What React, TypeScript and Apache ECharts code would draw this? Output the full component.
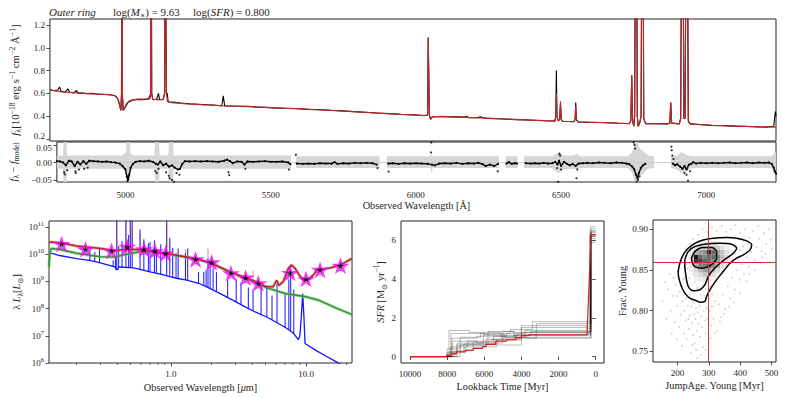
import React, { useEffect, useRef } from "react";
import * as echarts from "echarts";

const FONT = '"Liberation Serif", "DejaVu Serif", serif';
const TXT = "#262626";
const AX = "#262626";

// ---------- top panel: spectrum (wavelength [Å], flux) ----------
const specObs: [number, number][] = [
  [4764,0.635],[4775,0.625],[4790,0.63],[4797,0.655],[4802,0.618],[4815,0.612],[4826,0.64],[4831,0.61],[4845,0.605],[4855,0.625],[4860,0.6],[4875,0.603],[4890,0.598],[4910,0.6],[4930,0.593],[4950,0.59],[4970,0.588],[4985,0.58],[4995,0.555],[5002,0.49],[5006,0.45],[5008,0.6],[5009,2.5],[5010,2.5],[5011,0.6],[5014,0.45],[5020,0.475],[5030,0.52],[5045,0.54],[5060,0.548],[5080,0.545],[5100,0.552],[5108,0.6],[5109,2.5],[5110,2.5],[5111,0.6],[5115,0.545],[5128,0.55],[5134,0.6],[5138,0.545],[5150,0.548],[5155,0.6],[5157,2.5],[5159,2.5],[5161,0.6],[5164,0.6],[5167,0.53],[5175,0.522],[5185,0.525],[5195,0.52],[5210,0.516],[5240,0.51],[5270,0.505],[5300,0.5],[5330,0.496],[5350,0.49],[5355,0.578],[5360,0.49],[5380,0.49],[5410,0.487],[5440,0.486],[5470,0.48],[5500,0.478],[5530,0.473],[5560,0.47],[5600,0.468],[5640,0.46],[5680,0.458],[5720,0.452],[5760,0.447],[5800,0.44],[5840,0.435],[5880,0.428],[5920,0.423],[5960,0.416],[6000,0.412],[6040,0.406],[6052,0.41],[6054,1.09],[6056,1.09],[6058,0.41],[6062,0.372],[6068,0.396],[6100,0.397],[6150,0.394],[6180,0.392],[6185,0.399],[6190,0.39],[6200,0.387],[6225,0.39],[6232,0.395],[6250,0.381],[6300,0.378],[6350,0.37],[6400,0.367],[6450,0.36],[6486,0.358],[6489,0.4],[6491,0.8],[6493,0.4],[6497,0.36],[6502,0.37],[6505,0.5],[6508,0.37],[6512,0.356],[6550,0.352],[6555,0.37],[6557,0.52],[6559,0.37],[6565,0.35],[6600,0.347],[6650,0.345],[6700,0.338],[6740,0.336],[6745,0.36],[6748,0.76],[6751,0.36],[6755,0.312],[6758,0.4],[6761,2.5],[6764,2.5],[6767,0.4],[6770,0.31],[6775,0.34],[6780,0.4],[6783,2.5],[6786,2.5],[6789,0.38],[6795,0.335],[6830,0.334],[6870,0.333],[6878,0.34],[6881,0.52],[6884,0.34],[6910,0.333],[6915,0.38],[6919,2.5],[6922,2.5],[6926,0.38],[6930,0.38],[6934,2.5],[6937,2.5],[6941,0.36],[6946,0.34],[6950,0.333],[6980,0.327],[7020,0.32],[7060,0.318],[7100,0.313],[7140,0.31],[7180,0.307],[7210,0.305],[7232,0.31],[7238,0.44],[7240,0.4],
];
const specModel: [number, number][] = [
  [4764,0.63],[4780,0.622],[4800,0.615],[4820,0.612],[4840,0.607],[4860,0.604],[4880,0.601],[4900,0.598],[4920,0.595],[4940,0.593],[4960,0.59],[4975,0.586],[4990,0.575],[4998,0.54],[5003,0.48],[5006,0.455],[5008,0.6],[5009,2.5],[5010,2.5],[5011,0.6],[5013,0.455],[5018,0.47],[5025,0.51],[5035,0.535],[5050,0.545],[5070,0.55],[5090,0.55],[5105,0.552],[5108,0.6],[5109,2.5],[5110,2.5],[5111,0.6],[5114,0.548],[5130,0.545],[5150,0.545],[5155,0.6],[5157,2.5],[5159,2.5],[5161,0.6],[5165,0.528],[5180,0.518],[5200,0.514],[5230,0.508],[5260,0.504],[5290,0.5],[5320,0.497],[5350,0.492],[5380,0.489],[5410,0.487],[5440,0.485],[5470,0.481],[5500,0.477],[5530,0.474],[5560,0.471],[5600,0.467],[5640,0.462],[5680,0.457],[5720,0.452],[5760,0.446],[5800,0.44],[5840,0.434],[5880,0.428],[5920,0.422],[5960,0.417],[6000,0.413],[6040,0.405],[6052,0.41],[6054,1.09],[6056,1.09],[6058,0.41],[6062,0.375],[6068,0.395],[6100,0.398],[6150,0.393],[6200,0.388],[6250,0.383],[6300,0.377],[6350,0.372],[6400,0.366],[6450,0.361],[6486,0.358],[6489,0.4],[6491,0.6],[6493,0.4],[6497,0.36],[6502,0.37],[6505,0.53],[6508,0.37],[6512,0.356],[6550,0.352],[6555,0.37],[6557,0.49],[6559,0.37],[6565,0.351],[6600,0.348],[6650,0.344],[6700,0.339],[6740,0.336],[6745,0.36],[6748,0.76],[6751,0.36],[6755,0.315],[6758,0.4],[6761,2.5],[6764,2.5],[6767,0.4],[6770,0.315],[6775,0.34],[6780,0.4],[6783,2.5],[6786,2.5],[6789,0.38],[6795,0.335],[6830,0.334],[6870,0.333],[6878,0.34],[6881,0.52],[6884,0.34],[6910,0.333],[6915,0.38],[6919,2.5],[6922,2.5],[6926,0.38],[6930,0.38],[6934,2.5],[6937,2.5],[6941,0.36],[6946,0.332],[6980,0.326],[7020,0.321],[7060,0.317],[7100,0.314],[7140,0.311],[7180,0.308],[7210,0.306],[7240,0.305],
];

// ---------- residual panel ----------
const residLine: [number, number | null][] = [
  [4764,0.004],[4775,0.003],[4785,0.0],[4795,-0.008],[4805,0.005],[4815,0.003],[4825,-0.01],[4835,0.002],[4845,-0.006],[4855,0.004],[4865,-0.004],[4875,0.005],[4890,0.004],[4905,0.003],[4920,0.002],[4935,0.003],[4950,0.001],[4965,0.0],[4980,-0.003],[4990,-0.01],[5000,-0.02],[5005,-0.04],[5009,-0.05],[5013,-0.035],[5018,-0.015],[5025,-0.005],[5035,0.002],[5050,0.004],[5065,0.003],[5080,0.005],[5095,0.002],[5105,-0.004],[5112,-0.006],[5120,0.003],[5130,-0.008],[5140,-0.003],[5150,-0.012],[5160,-0.008],[5170,-0.015],[5180,-0.02],[5188,-0.018],[5195,-0.005],[5205,0.004],[5220,0.003],[5240,0.004],[5260,0.003],[5280,0.004],[5300,0.003],[5320,0.002],[5340,0.005],[5350,0.008],[5360,0.004],[5370,-0.002],[5385,0.003],[5400,0.002],[5410,-0.006],[5420,0.003],[5440,0.002],[5460,0.003],[5480,0.004],[5500,0.002],[5520,0.002],[5540,0.003],[5560,0.0],[5568,-0.005],[5575,null],
  [5590,-0.003],[5610,-0.004],[5630,-0.003],[5650,-0.004],[5670,-0.002],[5690,-0.003],[5710,-0.003],[5720,0.001],[5730,-0.004],[5750,-0.002],[5770,-0.003],[5790,-0.001],[5810,-0.002],[5830,-0.001],[5850,-0.002],[5865,-0.006],[5880,null],
  [5905,-0.003],[5920,-0.002],[5940,-0.004],[5960,-0.002],[5980,-0.003],[6000,-0.002],[6020,-0.003],[6040,-0.004],[6055,-0.006],[6065,-0.008],[6080,-0.003],[6100,-0.002],[6120,-0.003],[6140,-0.001],[6160,-0.004],[6180,-0.002],[6200,-0.003],[6215,-0.001],[6230,-0.005],[6240,-0.01],[6255,-0.006],[6270,-0.01],[6283,-0.004],[6295,null],
  [6312,-0.003],[6320,0.001],[6330,-0.004],[6340,-0.002],[6348,-0.003],[6360,null],
  [6378,-0.002],[6395,-0.003],[6410,-0.002],[6425,-0.003],[6440,-0.001],[6455,-0.003],[6470,-0.002],[6480,0.002],[6488,-0.006],[6493,0.005],[6500,-0.01],[6510,0.002],[6520,-0.004],[6530,-0.008],[6540,-0.004],[6550,-0.01],[6560,-0.003],[6575,-0.002],[6590,-0.001],[6610,-0.002],[6630,0.0],[6650,-0.001],[6670,-0.002],[6690,0.0],[6710,-0.001],[6725,-0.003],[6735,-0.005],[6745,-0.012],[6752,-0.02],[6758,-0.035],[6763,-0.045],[6768,-0.03],[6775,-0.015],[6782,-0.008],[6790,-0.004],[6800,null],
  [6885,-0.003],[6892,-0.008],[6900,-0.005],[6910,-0.012],[6918,-0.018],[6925,-0.01],[6932,-0.02],[6940,-0.006],[6948,-0.004],[6955,0.001],[6965,-0.003],[6980,-0.001],[7000,-0.002],[7020,-0.001],[7040,-0.002],[7060,-0.001],[7080,0.0],[7100,-0.002],[7120,-0.001],[7140,0.0],[7160,-0.002],[7180,0.0],[7200,-0.001],[7215,0.0],[7225,-0.004],[7232,-0.015],[7236,-0.025],[7240,-0.032],
];
const residOut: [number, number][] = [
  [4789,-0.028],[4791,-0.034],[4800,-0.022],[4828,-0.025],[4829,-0.03],[4840,-0.02],[4858,-0.018],[4870,-0.015],[5007,-0.053],[5103,-0.025],[5108,-0.03],[5114,-0.018],[5140,-0.028],[5149,-0.038],[5152,-0.045],[5160,-0.05],[5166,-0.055],[5176,-0.03],[5186,-0.035],[5355,-0.028],[5358,-0.036],[5413,-0.018],[5563,-0.02],[5587,0.022],[5868,-0.016],[5906,-0.026],[6053,0.057],[6052,0.029],[6282,-0.025],[6486,-0.016],[6490,-0.055],[6494,0.025],[6497,0.02],[6500,-0.02],[6553,-0.045],[6556,-0.02],[6750,0.057],[6753,0.05],[6755,0.04],[6760,-0.055],[6765,-0.05],[6770,-0.04],[6880,0.045],[6881,0.035],[6883,0.02],[6887,0.01],[6925,-0.03],[6932,-0.035],[6937,-0.052],[6944,-0.025],
];
// uncertainty band: [wavelength, upper, lower]; null = gap
const residBand: [number, number | null, number | null][] = [
  [4764,0.02,-0.018],[4785,0.02,-0.018],[4789,0.1,-0.1],[4795,0.1,-0.1],[4799,0.02,-0.018],[4990,0.02,-0.018],[5002,0.03,-0.025],[5006,0.1,-0.1],[5012,0.1,-0.1],[5018,0.025,-0.02],[5030,0.02,-0.018],[5100,0.02,-0.018],[5105,0.1,-0.1],[5113,0.1,-0.1],[5118,0.02,-0.018],[5148,0.02,-0.018],[5152,0.1,-0.1],[5162,0.1,-0.1],[5166,0.02,-0.018],[5570,0.02,-0.018],[5580,null,null],
  [5588,0.018,-0.016],[5875,0.018,-0.016],[5888,null,null],
  [5900,0.018,-0.016],[6050,0.018,-0.016],[6054,0.03,-0.03],[6058,0.018,-0.016],[6286,0.018,-0.016],[6298,null,null],
  [6309,0.018,-0.016],[6350,0.018,-0.016],[6360,null,null],
  [6372,0.018,-0.016],[6470,0.018,-0.016],[6485,0.025,-0.028],[6495,0.03,-0.03],[6505,0.02,-0.02],[6540,0.02,-0.018],[6555,0.025,-0.02],[6565,0.018,-0.016],[6730,0.018,-0.016],[6745,0.03,-0.03],[6755,0.06,-0.06],[6762,0.06,-0.06],[6770,0.04,-0.04],[6785,0.03,-0.03],[6800,0.02,-0.018],[6820,0.018,-0.016],[6850,null,null],
  [6878,0.018,-0.016],[6900,0.02,-0.02],[6915,0.03,-0.03],[6925,0.025,-0.03],[6940,0.02,-0.02],[6955,0.018,-0.016],[7225,0.018,-0.016],[7232,0.025,-0.03],[7240,0.03,-0.035],
];

// ---------- SED panel (λ [μm], λL_λ [L_sun]) ----------
const sedBlue: [number, number][] = [
  [0.125,1.05e10],[0.13,1.08e10],[0.15,8.9e9],[0.2,6.9e9],[0.25,5.9e9],[0.3,4.8e9],[0.35,3.9e9],[0.385,3.4e9],[0.395,2.6e9],[0.405,2.8e9],[0.41,3.4e9],[0.45,3.3e9],[0.53,3.15e9],[0.6,2.7e9],[0.7,2.25e9],[0.85,1.8e9],[0.98,1.5e9],[1.1,1.3e9],[1.31,1.1e9],[1.6,8.5e8],[1.84,6.3e8],[2.3,3.6e8],[2.89,2.0e8],[3.6,1.1e8],[4.2,7.5e7],[5.12,4.9e7],[6.2,2.9e7],[7.18,1.9e7],[8.0,1.3e7],[8.77,7.2e6],[9.0,1.0e7],[9.2,4e7],[9.45,3.5e8],[9.65,5e7],[9.83,5.2e6],[12,2.8e6],[14,1.8e6],[16.8,1.1e6],[19,7.5e5],[21.9,5e5],
];
// [λ, continuum at λ, line peak]
const sedBlueLines: [number, number, number][] = [
  [0.251,5.9e9,1.45e10],[0.273,5.3e9,1.2e10],[0.296,4.8e9,1.6e10],[0.373,3.6e9,6e9],[0.388,3.3e9,8e9],[0.397,2.8e9,2e11],[0.41,3.4e9,2e10],[0.434,3.3e9,3e10],[0.464,3.3e9,2e11],[0.486,3.25e9,5e10],[0.5,3.2e9,2e11],[0.516,3.2e9,2e11],[0.59,2.8e9,8e10],[0.63,2.6e9,3.5e10],[0.68,2.35e9,2.5e10],[0.7,2.25e9,2.8e10],[0.754,2.1e9,3.2e10],[0.78,2.0e9,1.5e10],[0.84,1.8e9,2.3e10],[0.93,1.6e9,2e11],[0.98,1.5e9,4e10],[1.03,1.4e9,1.7e10],[1.09,1.35e9,1.1e10],[1.13,1.3e9,1.6e10],[1.28,1.15e9,1.1e10],[1.33,1.1e9,1.6e10],[1.6,8.5e8,2.2e9],[1.75,7e8,2.2e9],[1.82,6.5e8,2.6e9],[1.88,6.1e8,7e9],[1.95,5.7e8,3.5e9],[2.05,5e8,3e9],[2.17,4.4e8,2.2e9],[2.63,2.6e8,1.1e9],[3.04,1.75e8,1.2e9],[3.3,1.4e8,9e8],[3.74,1.0e8,6e8],[4.05,8.2e7,5e8],[4.65,6e7,7e8],[5.13,4.9e7,7e8],[5.6,3.8e7,3e8],[6.1,3e7,8e8],[7.0,2e7,3.5e8],[7.46,1.7e7,1.2e9],[7.7,1.55e7,2.5e9],[8.12,1.25e7,5e8],
];
const sedRedLines: [number, number, number][] = [
  [0.397,1.35e10,2e11],[0.464,1.5e10,2e11],[0.5,1.55e10,2e11],[0.516,1.55e10,1e11],[0.59,1.45e10,6e10],[0.63,1.4e10,3e10],[0.754,1.25e10,2.5e10],[0.93,1.05e10,2e11],[0.98,1.0e10,3e10],[1.28,8.2e9,1.5e10],[1.88,5.1e9,1.6e10],[4.05,1.0e9,2.5e9],
];
const sedRed: [number, number][] = [
  [0.125,2.6e10],[0.13,2.8e10],[0.15,2.6e10],[0.2,2.0e10],[0.25,1.8e10],[0.3,1.6e10],[0.36,1.42e10],[0.39,1.3e10],[0.41,1.42e10],[0.5,1.52e10],[0.6,1.42e10],[0.7,1.28e10],[0.8,1.15e10],[0.9,1.06e10],[1.0,9.8e9],[1.2,8.4e9],[1.5,6.9e9],[1.8,5.4e9],[2.0,4.6e9],[2.4,3.0e9],[2.8,2.1e9],[3.3,1.55e9],[3.6,1.3e9],[4.2,1.0e9],[4.5,8.3e8],[5.0,6.5e8],[5.7,6.3e8],[6.07,1.1e9],[6.3,7e8],[6.8,1.0e9],[7.4,3e9],[7.8,4e9],[8.3,3e9],[8.9,1.7e9],[9.6,1.1e9],[10.2,1.1e9],[11.3,1.7e9],[12,2.6e9],[15,3.1e9],[18,4e9],[21.9,6.9e9],
];
const sedGreen: [number, number][] = [
  [0.125,3.5e9],[0.127,1.2e10],[0.13,1.6e10],[0.15,1.5e10],[0.2,1.07e10],[0.3,8e9],[0.39,7.8e9],[0.41,8.5e9],[0.5,1.05e10],[0.6,1.25e10],[0.7,1.22e10],[0.8,1.12e10],[1.0,9.6e9],[1.5,6.9e9],[2.0,4.6e9],[2.8,2.1e9],[3.6,1.3e9],[4.5,8.3e8],[5.0,6.0e8],[7.0,3.6e8],[10,2.7e8],[12.5,2.0e8],[16,1.15e8],[21.9,6e7],
];
const sedPhot: [number, number][] = [
  [0.155,2.3e10],[0.233,1.48e10],[0.363,1.29e10],[0.475,1.82e10],[0.631,1.48e10],[0.761,1.29e10],[0.913,1.05e10],[1.52,6.3e9],[2.0,4.9e9],[2.78,1.95e9],[3.57,1.35e9],[4.43,8.3e8],[7.62,2.0e9],[10.0,1.2e9],[12.7,2.6e9],[18.0,3.7e9],
];
const sedMinorTicks = [0.2,0.3,0.4,0.5,0.6,0.7,0.8,0.9,2,3,4,5,6,7,8,9,20];

// ---------- SFH panel (lookback time [Myr], SFR) ----------
const sfhBest: [number, number][] = [
  [10000,0],[8050,0],[8050,0.05],[7800,0.05],[7800,0.15],[7500,0.15],[7500,0.25],[7000,0.25],[7000,0.33],[6600,0.33],[6600,0.42],[6100,0.42],[6100,0.52],[5900,0.52],[5900,0.63],[5400,0.63],[5400,0.8],[4800,0.8],[4800,0.87],[4300,0.87],[4300,0.98],[4000,0.98],[4000,1.08],[3600,1.08],[3600,1.12],[470,1.12],[250,6.3],[0,6.3],
];
// posterior draws: [t, SFR of the bin starting at t]
const sfhDraws: [number, number][][] = [
  [[10000,0],[7760,0.95],[6400,1.05],[4800,1.2],[3900,1.25],[460,1.2],[280,6.5],[0,6.5]],
  [[10000,0],[7300,0.6],[5900,0.9],[4400,1.1],[3500,1.3],[440,1.25],[300,6.2],[0,6.2]],
  [[10000,0],[8000,0.2],[7040,0.5],[5340,0.85],[4000,1.6],[480,1.55],[280,6.0],[0,6.0]],
  [[10000,0],[7800,1.2],[6000,1.1],[4300,0.95],[3200,1.7],[420,1.7],[240,6.6],[0,6.6]],
  [[10000,0],[7600,0.3],[6600,0.75],[5600,0.9],[4100,1.0],[450,1.0],[260,6.3],[0,6.3]],
  [[10000,0],[7900,1.35],[6800,1.25],[5100,1.0],[3700,0.95],[400,0.95],[250,6.1],[0,6.1]],
  [[10000,0],[8000,0.4],[7300,1.0],[6200,1.2],[4600,1.4],[3400,1.8],[470,1.8],[300,6.4],[0,6.4]],
  [[10000,0],[7700,0.8],[6400,0.7],[5000,1.3],[4400,1.1],[460,1.1],[270,5.9],[0,5.9]],
  [[10000,0],[8000,0.1],[7500,0.6],[5800,1.3],[4400,1.25],[430,1.3],[290,6.7],[0,6.7]],
  [[10000,0],[7800,0.5],[6900,0.8],[5300,0.6],[4000,1.5],[470,1.45],[260,6.2],[0,6.2]],
  [[10000,0],[7450,0.7],[6050,1.15],[4900,1.0],[3800,1.35],[410,1.3],[230,6.45],[0,6.45]],
  [[10000,0],[7900,0.25],[7100,0.65],[5500,1.05],[4250,1.15],[450,1.15],[310,6.25],[0,6.25]],
];

// ---------- posterior panel (JumpAge [Myr], young fraction) ----------
const postSamples: [number, number][] = [
  [152,0.812],[160,0.835],[165,0.79],[170,0.826],[175,0.845],[178,0.80],[182,0.772],[186,0.818],[190,0.858],[192,0.786],[195,0.832],[198,0.765],[200,0.806],[203,0.848],[205,0.78],[207,0.823],[210,0.795],[212,0.862],[214,0.757],[216,0.812],[218,0.838],[220,0.772],[222,0.80],[224,0.852],[226,0.788],[228,0.815],[230,0.765],[231,0.83],[233,0.806],[235,0.872],[237,0.778],[239,0.794],[241,0.82],[243,0.748],[245,0.805],[247,0.785],[249,0.77],[251,0.81],[253,0.796],[255,0.76],[257,0.79],[259,0.803],[261,0.775],[263,0.742],[265,0.798],[267,0.784],[270,0.806],[272,0.768],[275,0.793],[278,0.78],[281,0.755],[284,0.8],[287,0.788],[290,0.772],[293,0.803],[296,0.79],[299,0.76],[302,0.8],[306,0.782],[310,0.805],[315,0.79],[320,0.812],[326,0.775],[332,0.808],[338,0.792],[345,0.82],[352,0.802],[360,0.83],[368,0.815],[375,0.84],[383,0.826],[390,0.85],[398,0.838],[405,0.857],[412,0.845],[420,0.866],[428,0.854],[436,0.872],[445,0.862],[452,0.878],[460,0.888],[468,0.873],[475,0.895],[483,0.882],[490,0.9],[497,0.887],[415,0.9],[400,0.896],[385,0.905],[370,0.9],[355,0.897],[340,0.904],[325,0.898],[310,0.902],[295,0.897],[280,0.9],[265,0.893],[250,0.888],[238,0.882],[228,0.876],[440,0.898],[458,0.904],[430,0.89],[470,0.866],[480,0.87],[500,0.876],[465,0.858],[447,0.85],[430,0.845],[420,0.836],[400,0.822],[380,0.81],[365,0.805],[348,0.796],[335,0.787],[318,0.772],[305,0.766],[290,0.752],[275,0.746],[260,0.752],[248,0.758],[235,0.79],[221,0.84],[210,0.83],[199,0.818],[188,0.84],
  [245,0.86],[250,0.845],[255,0.835],[262,0.828],[268,0.84],[275,0.82],[282,0.832],[290,0.826],[298,0.838],[305,0.83],[312,0.845],[320,0.84],[330,0.852],[340,0.848],[350,0.858],[360,0.86],[372,0.865],[385,0.87],[398,0.875],[410,0.879],[425,0.882],[365,0.875],[345,0.872],[325,0.88],[300,0.884],[275,0.882],[258,0.876],[240,0.868],[232,0.852],[238,0.84],[248,0.826],[300,0.815],[285,0.818],[310,0.82],
];
const histX0 = [238,252,266,280,294,308,322,336,350,364];
const histY0 = [0.8305,0.836,0.8415,0.847,0.8525,0.858,0.8635,0.869,0.8745,0.88];
const HIST_DX = 14;
const HIST_DY = 0.0055;
const histLevels: number[][] = [
  [0,0,0.04,0.05,0.04,0,0,0,0,0],
  [0,0.05,0.08,0.1,0.08,0.05,0,0,0,0],
  [0.04,0.1,0.15,0.22,0.18,0.12,0.06,0,0,0],
  [0.06,0.15,0.3,0.4,0.35,0.25,0.14,0.07,0,0],
  [0.08,0.3,0.5,0.55,0.6,0.45,0.28,0.14,0.06,0],
  [0.1,0.8,0.75,0.6,0.55,0.5,0.4,0.2,0.1,0.04],
  [0.1,0.9,0.6,0.5,0.55,0.6,0.45,0.28,0.12,0.05],
  [0.06,0.3,0.4,0.45,0.85,0.6,0.35,0.25,0.12,0.06],
  [0.03,0.1,0.15,0.2,0.28,0.3,0.2,0.12,0.06,0.03],
  [0,0.03,0.05,0.07,0.08,0.07,0.05,0.04,0,0],
];
const contourOuter: [number, number][] = [
  [202.1,0.8481],[207.5,0.8583],[218.1,0.8685],[234.1,0.8767],[255.4,0.8828],[282.0,0.8869],[314.0,0.889],[356.5,0.8898],[388.5,0.889],[420.4,0.8857],[436.4,0.8808],[431.1,0.8747],[409.8,0.8685],[388.5,0.8645],[367.2,0.8583],[345.9,0.8481],[324.6,0.8379],[303.3,0.8257],[292.7,0.8175],[287.3,0.8114],[271.4,0.8105],[260.7,0.8122],[239.4,0.8154],[223.4,0.8216],[212.8,0.8297],[204.3,0.84],[202.1,0.8481],
];
const contourMiddle: [number, number][] = [
  [223.4,0.8624],[234.1,0.8726],[255.4,0.8788],[292.7,0.882],[335.2,0.8828],[372.5,0.8816],[388.5,0.8767],[377.8,0.8706],[356.5,0.8645],[335.2,0.8583],[314.0,0.8502],[298.0,0.842],[287.3,0.8318],[271.4,0.8257],[250.1,0.8244],[237.3,0.8277],[230.9,0.8338],[226.6,0.844],[223.4,0.8542],[223.4,0.8624],
];
const contourInner: [number, number][] = [
  [244.7,0.8645],[255.4,0.8726],[282.0,0.8775],[308.6,0.8775],[324.6,0.8726],[324.6,0.8645],[314.0,0.8583],[298.0,0.8542],[276.7,0.8522],[255.4,0.8542],[247.9,0.8583],[244.7,0.8645],
];
const bestJumpAge = 297;
const bestFracYoung = 0.86;

const STAR = "path://M50,0 L61.8,35.4 L100,35.4 L69.1,57.3 L80.9,92.7 L50,70.8 L19.1,92.7 L30.9,57.3 L0,35.4 L38.2,35.4 Z";

function rich(fs: number) {
  const base = { fontFamily: FONT, color: TXT, fill: TXT };
  return {
    n: { ...base, fontSize: fs, lineHeight: fs + 4 },
    it: { ...base, fontSize: fs, fontStyle: "italic", lineHeight: fs + 4 },
    sup: { ...base, fontSize: fs * 0.72, lineHeight: fs * 0.72, verticalAlign: "top" },
    sub: { ...base, fontSize: fs * 0.72, lineHeight: fs * 0.72, verticalAlign: "bottom" },
    b: { ...base, fontSize: fs, lineHeight: fs + 4 },
    up: { ...base, fontSize: fs, lineHeight: fs, padding: [0, 0, 6, 0] },
    dn: { ...base, fontSize: fs, lineHeight: fs, padding: [6, 0, 0, 0] },
  };
}

const gapped = (arr: [number, number | null][]) => arr.map(([x, y]) => [x, y === null ? "-" : y]);
const spikes = (arr: [number, number, number][]) =>
  arr.flatMap(([l, b, p]) => [[l, b], [l, p], [l, "-"]]);

export default function App() {
  const ref = useRef<HTMLDivElement>(null);
  useEffect(() => {
    if (!ref.current) return;
    const chart = echarts.init(ref.current, null, { renderer: "svg" });
    const NAMEFS = 10.3;
    const common = {
      axisLine: { show: false },
      axisTick: { show: true, length: 3.5, lineStyle: { color: AX, width: 0.8 } },
      splitLine: { show: false },
      nameLocation: "middle",
      nameTextStyle: { fontFamily: FONT, fontSize: NAMEFS, color: TXT, rich: rich(NAMEFS) },
    };
    const lab = (fmt: (v: number) => string, extra: any = {}) => ({
      color: TXT, fontFamily: FONT, fontSize: 9, formatter: fmt, showMinLabel: false, showMaxLabel: false, ...extra,
    });
    const isMult = (v: number, s: number) => Math.abs(v / s - Math.round(v / s)) < 1e-6;
    const fmtFix = (s: number, d: number) => (v: number) =>
      isMult(v, s) ? (v < 0 ? "\u2212" : "") + Math.abs(v).toFixed(d) : "";

    const gridStyle = { show: true, borderColor: AX, borderWidth: 1, backgroundColor: "transparent" };

    const histData: number[][] = [];
    histLevels.forEach((row, j) => row.forEach((lv, i) => { if (lv >= 0.05) histData.push([histX0[i], histY0[j], lv]); }));

    const option: any = {
      animation: false,
      textStyle: { fontFamily: FONT },
      grid: [
        { left: 49, top: 19, width: 727, height: 122, ...gridStyle },
        { left: 49, top: 142, width: 727, height: 40, ...gridStyle },
        { left: 49, top: 221, width: 303, height: 142, ...gridStyle },
        { left: 401, top: 221, width: 203, height: 142, ...gridStyle },
        { left: 653, top: 220, width: 123, height: 142, ...gridStyle },
      ],
      xAxis: [
        { ...common, gridIndex: 0, type: "value", min: 4764, max: 7240, axisLabel: { show: false }, axisTick: { show: false } },
        { ...common, gridIndex: 1, type: "value", min: 4764, max: 7240, splitNumber: 5,
          axisLabel: lab(fmtFix(500, 0), { margin: 8 }), name: "Observed Wavelength [Å]", nameGap: 18 },
        { ...common, gridIndex: 2, type: "log", logBase: 10, min: 0.125, max: 21.9,
          axisLabel: lab((v: number) => (Math.abs(v - 1) < 1e-6 ? "1.0" : Math.abs(v - 10) < 1e-6 ? "10.0" : ""), { margin: 6 }),
          name: "{n|Observed Wavelength [}{it|μ}{n|m]}", nameGap: 17 },
        { ...common, gridIndex: 3, type: "value", min: -447, max: 10485, inverse: true, splitNumber: 5,
          axisLabel: lab(fmtFix(2000, 0), { margin: 6 }), name: "Lookback Time [Myr]", nameGap: 18 },
        { ...common, gridIndex: 4, type: "value", min: 122, max: 514, splitNumber: 4,
          axisLabel: lab(fmtFix(100, 0), { margin: 6 }), name: "JumpAge. Young [Myr]", nameGap: 18 },
      ],
      yAxis: [
        { ...common, gridIndex: 0, type: "value", min: 0.183, max: 1.252, splitNumber: 5,
          axisLabel: lab((v: number) => (isMult(v, 0.2) ? (Math.abs(v - 0.2) < 1e-6 ? "{up|0.2}" : v.toFixed(1)) : ""), { margin: 5, rich: rich(9) }),
          nameTextStyle: { fontFamily: FONT, fontSize: 10.8, color: TXT, rich: rich(10.8) },
          name: "{it|f}{sub|λ}{n|[10}{sup|−18}{n| erg s}{sup|−1}{n| cm}{sup|−2}{n| Å}{sup|−1}{n|]}", nameGap: 22 },
        { ...common, gridIndex: 1, type: "value", min: -0.0557, max: 0.0586, splitNumber: 2,
          axisLabel: lab((v: number) => { const s = fmtFix(0.05, 2)(v); return Math.abs(v - 0.05) < 1e-6 ? `{dn|${s}}` : s; }, { margin: 5, rich: rich(9) }),
          name: "{it|f}{sub|λ}{n| − }{it|f}{sub|model}", nameGap: 31 },
        { ...common, gridIndex: 2, type: "log", logBase: 10, min: 1e6, max: 1.65e11,
          axisLabel: { color: TXT, fontFamily: FONT, fontSize: 9, margin: 5, showMinLabel: true, showMaxLabel: false,
            formatter: (v: number) => { const e = Math.round(Math.log10(v)); return Math.abs(Math.log10(v) - e) < 1e-6 ? `{b|10}{sup|${e}}` : ""; },
            rich: rich(9) },
          name: "{n|λ }{it|L}{sub|λ}{n|[}{it|L}{sub|⊙}{n|]}", nameGap: 25 },
        { ...common, gridIndex: 3, type: "value", min: -0.33, max: 7, splitNumber: 4,
          axisLabel: lab(fmtFix(2, 0), { margin: 5 }),
          name: "{it|SFR}{n| [M}{sub|⊙}{n| yr}{sup|−1}{n|]}", nameGap: 12 },
        { ...common, gridIndex: 4, type: "value", min: 0.737, max: 0.9114, splitNumber: 4,
          axisLabel: lab(fmtFix(0.05, 2), { margin: 5 }),
          name: "Frac. Young", nameGap: 26 },
      ],
      graphic: [
        { type: "text", x: 49, y: 4, style: { text: "{it|Outer ring}", rich: rich(11) } },
        { type: "text", x: 113, y: 4, style: { text: "{n|log(}{it|M}{sub|∗}{n|) = 9.63}", rich: rich(11) } },
        { type: "text", x: 193, y: 4, style: { text: "{n|log(}{it|SFR}{n|) = 0.800}", rich: rich(11) } },
      ],
      series: [
        // spectrum
        { type: "line", xAxisIndex: 0, yAxisIndex: 0, data: specObs, symbol: "none", lineStyle: { color: "#000", width: 1.1 }, clip: true, z: 2 },
        { type: "line", xAxisIndex: 0, yAxisIndex: 0, data: specModel, symbol: "none", lineStyle: { color: "#b82a2a", width: 1.2 }, clip: true, z: 3 },
        // residual band
        { type: "line", xAxisIndex: 1, yAxisIndex: 1, data: residBand.map(([w, h]) => [w, h === null ? "-" : h]), symbol: "none",
          lineStyle: { width: 0 }, areaStyle: { color: "#d6d6d6", opacity: 1 }, clip: true, z: 1 },
        { type: "line", xAxisIndex: 1, yAxisIndex: 1, data: residBand.map(([w, , l]) => [w, l === null ? "-" : l]), symbol: "none",
          lineStyle: { width: 0 }, areaStyle: { color: "#d6d6d6", opacity: 1 }, clip: true, z: 1 },
        { type: "line", xAxisIndex: 1, yAxisIndex: 1, data: [[4764, 0], [7240, 0]], symbol: "none",
          lineStyle: { color: "#c4c4c4", width: 0.8 }, z: 1 },
        { type: "line", xAxisIndex: 1, yAxisIndex: 1, data: gapped(residLine), symbol: "circle", showSymbol: true, symbolSize: 2,
          itemStyle: { color: "#000" }, lineStyle: { color: "#000", width: 1.4 }, clip: true, z: 3 },
        { type: "scatter", xAxisIndex: 1, yAxisIndex: 1, data: residOut, symbolSize: 2.2, itemStyle: { color: "#000" }, z: 3 },
        // SED
        { type: "line", xAxisIndex: 2, yAxisIndex: 2, data: sedBlue, symbol: "none", lineStyle: { color: "#1414ff", width: 1.3 }, clip: true, z: 2 },
        { type: "line", xAxisIndex: 2, yAxisIndex: 2, data: spikes(sedBlueLines), symbol: "none", lineStyle: { color: "#1414ff", width: 1 }, clip: true, z: 2 },
        { type: "line", xAxisIndex: 2, yAxisIndex: 2, data: sedGreen, symbol: "none", lineStyle: { color: "rgba(120,190,120,0.6)", width: 3.2 }, clip: true, z: 3 },
        { type: "line", xAxisIndex: 2, yAxisIndex: 2, data: sedGreen, symbol: "none", lineStyle: { color: "#2f962f", width: 1.5 }, clip: true, z: 3 },
        { type: "line", xAxisIndex: 2, yAxisIndex: 2, data: sedRed, symbol: "none", lineStyle: { color: "rgba(200,110,110,0.55)", width: 3 }, clip: true, z: 4 },
        { type: "line", xAxisIndex: 2, yAxisIndex: 2, data: sedRed, symbol: "none", lineStyle: { color: "#b22a2a", width: 1.5 }, clip: true, z: 4 },
        { type: "line", xAxisIndex: 2, yAxisIndex: 2, data: spikes(sedRedLines), symbol: "none", lineStyle: { color: "rgba(178,40,40,0.5)", width: 1 }, clip: true, z: 4 },
        { type: "scatter", xAxisIndex: 2, yAxisIndex: 2, data: sedPhot, symbol: STAR, symbolKeepAspect: true, symbolSize: 13,
          itemStyle: { color: "rgba(255,0,255,0.15)", borderColor: "#ff00ff", borderWidth: 1.6 }, z: 5 },
        { type: "scatter", xAxisIndex: 2, yAxisIndex: 2, data: sedPhot, symbol: STAR, symbolKeepAspect: true, symbolSize: 7.5,
          itemStyle: { color: "#000" }, z: 6 },
        { type: "scatter", xAxisIndex: 2, yAxisIndex: 2, data: sedMinorTicks.map((v) => [v, 1e6]), symbol: "rect", symbolSize: [0.8, 2],
          symbolOffset: [0, 1], itemStyle: { color: AX }, clip: false, silent: true, z: 6 },
        // SFH
        ...sfhDraws.map((d) => ({ type: "line", xAxisIndex: 3, yAxisIndex: 3, data: d, step: "end", symbol: "none",
          lineStyle: { color: "rgba(0,0,0,0.27)", width: 1 }, clip: true, z: 2 })),
        { type: "line", xAxisIndex: 3, yAxisIndex: 3, data: sfhBest, symbol: "none", lineStyle: { color: "#d42020", width: 1.2 }, clip: true, z: 4 },
        // posterior
        { type: "scatter", xAxisIndex: 4, yAxisIndex: 4, data: postSamples, symbolSize: 1.8, itemStyle: { color: "rgba(110,110,110,0.4)" }, z: 1 },
        { type: "custom", xAxisIndex: 4, yAxisIndex: 4, data: histData, clip: true, z: 2,
          renderItem: (params: any, api: any) => {
            const x0 = api.value(0), y0 = api.value(1), lv = api.value(2);
            const p0 = api.coord([x0, y0]);
            const p1 = api.coord([x0 + HIST_DX, y0 + HIST_DY]);
            const g = Math.round(255 * (1 - lv));
            return { type: "rect", shape: { x: p0[0], y: p1[1], width: p1[0] - p0[0], height: p0[1] - p1[1] },
              style: { fill: `rgb(${g},${g},${g})` } };
          } },
        ...[contourOuter, contourMiddle, contourInner].map((c, i) => ({
          type: "line", xAxisIndex: 4, yAxisIndex: 4, data: c, symbol: "none", smooth: 0.3,
          lineStyle: { color: "#000", width: 1.5 }, clip: true, z: 3,
          ...(i === 0 ? { markLine: { silent: true, symbol: ["none", "none"], label: { show: false },
            lineStyle: { color: "#c83434", width: 1, type: "solid" }, data: [{ xAxis: bestJumpAge }, { yAxis: bestFracYoung }] } } : {}),
        })),
      ],
    };
    chart.setOption(option);
    return () => chart.dispose();
  }, []);
  return <div ref={ref} style={{ position: "fixed", left: 0, top: 0, width: 789, height: 398, background: "#fff" }} />;
}
